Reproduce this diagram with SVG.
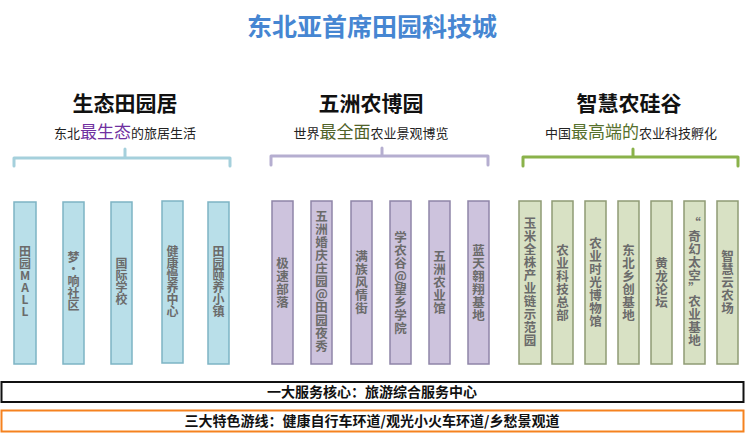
<svg xmlns="http://www.w3.org/2000/svg" width="750" height="444" viewBox="0 0 750 444">
<style>
.title{font-family:"Noto Sans CJK SC","Liberation Sans",sans-serif;font-weight:700;font-size:25px;fill:#4686d2;text-anchor:middle}
.head{font-family:"Noto Sans CJK SC","Liberation Sans",sans-serif;font-weight:700;font-size:21px;fill:#111;text-anchor:middle}
.sub{font-family:"Noto Sans CJK SC","Liberation Sans",sans-serif;font-size:13px;fill:#222;text-anchor:middle}
.big{font-size:17px}
.vt{font-family:"Noto Sans CJK SC","Liberation Sans",sans-serif;font-weight:700;font-size:12.5px;fill:#6b6b6b;text-anchor:middle}
.vt1{font-size:12px}
.b1{fill:#b9dfe9;stroke:#7db4c4;stroke-width:1.5}
.b2{fill:#cdc3dd;stroke:#8f85a8;stroke-width:1.5}
.b3{fill:#d8e1c4;stroke:#8f9b74;stroke-width:1.5}
.br{fill:none;stroke-width:3;stroke-linecap:round;stroke-linejoin:round}
.bar{font-family:"Noto Sans CJK SC","Liberation Sans",sans-serif;font-weight:700;font-size:14px;fill:#111;text-anchor:middle}
</style>
<text class="title" x="372" y="36">东北亚首席田园科技城</text>

<g id="g1-head">
<text class="head" x="125" y="111">生态田园居</text>
<text class="sub" x="125" y="138">东北<tspan class="big" fill="#7030a0">最生态</tspan>的旅居生活</text>
</g>
<g id="g2-head">
<text class="head" x="371" y="111">五洲农博园</text>
<text class="sub" x="371" y="138">世界<tspan class="big" fill="#4f6228">最全面</tspan>农业景观博览</text>
</g>
<g id="g3-head">
<text class="head" x="629" y="111">智慧农硅谷</text>
<text class="sub" x="631" y="138">中国<tspan class="big" fill="#55702c">最高端的</tspan>农业科技孵化</text>
</g>

<g id="connectors">
<path class="br" stroke="#a5d0dc" d="M14,166 V158 H230 V166 M125,149 V158"/>
<path class="br" stroke="#b5aed0" d="M271,165 V156 H488 V165 M382,148 V156"/>
<path class="br" stroke="#8ab24a" d="M523,166 V157 H738 V166 M633,149 V157"/>
</g>

<g id="n-tianyuan-mall">
<rect class="b1" x="14" y="202" width="22" height="162"/>
<text class="vt vt1"><tspan x="25" y="256">田</tspan><tspan x="25" dy="12">园</tspan><tspan x="25" dy="12">M</tspan><tspan x="25" dy="12">A</tspan><tspan x="25" dy="12">L</tspan><tspan x="25" dy="12">L</tspan></text>
</g>
<g id="n-mengxiang">
<rect class="b1" x="63" y="202" width="21" height="162"/>
<text class="vt vt1"><tspan x="73.5" y="262">梦</tspan><tspan x="73.5" dy="12">•</tspan><tspan x="73.5" dy="12">响</tspan><tspan x="73.5" dy="12">社</tspan><tspan x="73.5" dy="12">区</tspan></text>
</g>
<g id="n-guoji">
<rect class="b1" x="111" y="202" width="21" height="162"/>
<text class="vt vt1"><tspan x="121.5" y="268">国</tspan><tspan x="121.5" dy="12">际</tspan><tspan x="121.5" dy="12">学</tspan><tspan x="121.5" dy="12">校</tspan></text>
</g>
<g id="n-jiankang">
<rect class="b1" x="162" y="201" width="21" height="162"/>
<text class="vt vt1"><tspan x="172.5" y="256">健</tspan><tspan x="172.5" dy="12">康</tspan><tspan x="172.5" dy="12">慢</tspan><tspan x="172.5" dy="12">养</tspan><tspan x="172.5" dy="12">中</tspan><tspan x="172.5" dy="12">心</tspan></text>
</g>
<g id="n-yiyang">
<rect class="b1" x="208" y="202" width="21" height="162"/>
<text class="vt vt1"><tspan x="218.5" y="256">田</tspan><tspan x="218.5" dy="12">园</tspan><tspan x="218.5" dy="12">颐</tspan><tspan x="218.5" dy="12">养</tspan><tspan x="218.5" dy="12">小</tspan><tspan x="218.5" dy="12">镇</tspan></text>
</g>

<g id="n-jisu">
<rect class="b2" x="272" y="201" width="21" height="163"/>
<text class="vt"><tspan x="282.5" y="267.5">极</tspan><tspan x="282.5" dy="13">速</tspan><tspan x="282.5" dy="13">部</tspan><tspan x="282.5" dy="13">落</tspan></text>
</g>
<g id="n-hunqing">
<rect class="b2" x="311" y="201" width="21" height="163"/>
<text class="vt"><tspan x="321.5" y="221">五</tspan><tspan x="321.5" dy="13">洲</tspan><tspan x="321.5" dy="13">婚</tspan><tspan x="321.5" dy="13">庆</tspan><tspan x="321.5" dy="13">庄</tspan><tspan x="321.5" dy="13">园</tspan><tspan x="321.5" dy="13">@</tspan><tspan x="321.5" dy="13">田</tspan><tspan x="321.5" dy="13">园</tspan><tspan x="321.5" dy="13">夜</tspan><tspan x="321.5" dy="13">秀</tspan></text>
</g>
<g id="n-manzu">
<rect class="b2" x="351" y="201" width="21" height="163"/>
<text class="vt"><tspan x="361.5" y="261">满</tspan><tspan x="361.5" dy="13">族</tspan><tspan x="361.5" dy="13">风</tspan><tspan x="361.5" dy="13">情</tspan><tspan x="361.5" dy="13">街</tspan></text>
</g>
<g id="n-xuenonggu">
<rect class="b2" x="390" y="201" width="21" height="163"/>
<text class="vt"><tspan x="400.5" y="241.5">学</tspan><tspan x="400.5" dy="13">农</tspan><tspan x="400.5" dy="13">谷</tspan><tspan x="400.5" dy="13">@</tspan><tspan x="400.5" dy="13">望</tspan><tspan x="400.5" dy="13">乡</tspan><tspan x="400.5" dy="13">学</tspan><tspan x="400.5" dy="13">院</tspan></text>
</g>
<g id="n-nongyeguan">
<rect class="b2" x="429" y="201" width="21" height="163"/>
<text class="vt"><tspan x="439.5" y="261">五</tspan><tspan x="439.5" dy="13">洲</tspan><tspan x="439.5" dy="13">农</tspan><tspan x="439.5" dy="13">业</tspan><tspan x="439.5" dy="13">馆</tspan></text>
</g>
<g id="n-lantian">
<rect class="b2" x="468" y="201" width="21" height="163"/>
<text class="vt"><tspan x="478.5" y="254.5">蓝</tspan><tspan x="478.5" dy="13">天</tspan><tspan x="478.5" dy="13">翱</tspan><tspan x="478.5" dy="13">翔</tspan><tspan x="478.5" dy="13">基</tspan><tspan x="478.5" dy="13">地</tspan></text>
</g>

<g id="n-yumi">
<rect class="b3" x="519" y="201" width="22" height="163"/>
<text class="vt"><tspan x="530" y="228">玉</tspan><tspan x="530" dy="13">米</tspan><tspan x="530" dy="13">全</tspan><tspan x="530" dy="13">株</tspan><tspan x="530" dy="13">产</tspan><tspan x="530" dy="13">业</tspan><tspan x="530" dy="13">链</tspan><tspan x="530" dy="13">示</tspan><tspan x="530" dy="13">范</tspan><tspan x="530" dy="13">园</tspan></text>
</g>
<g id="n-keji">
<rect class="b3" x="552" y="201" width="21" height="163"/>
<text class="vt"><tspan x="562.5" y="254.5">农</tspan><tspan x="562.5" dy="13">业</tspan><tspan x="562.5" dy="13">科</tspan><tspan x="562.5" dy="13">技</tspan><tspan x="562.5" dy="13">总</tspan><tspan x="562.5" dy="13">部</tspan></text>
</g>
<g id="n-shiguang">
<rect class="b3" x="585" y="201" width="21" height="163"/>
<text class="vt"><tspan x="595.5" y="248">农</tspan><tspan x="595.5" dy="13">业</tspan><tspan x="595.5" dy="13">时</tspan><tspan x="595.5" dy="13">光</tspan><tspan x="595.5" dy="13">博</tspan><tspan x="595.5" dy="13">物</tspan><tspan x="595.5" dy="13">馆</tspan></text>
</g>
<g id="n-xiangchuang">
<rect class="b3" x="618" y="201" width="21" height="163"/>
<text class="vt"><tspan x="628.5" y="254.5">东</tspan><tspan x="628.5" dy="13">北</tspan><tspan x="628.5" dy="13">乡</tspan><tspan x="628.5" dy="13">创</tspan><tspan x="628.5" dy="13">基</tspan><tspan x="628.5" dy="13">地</tspan></text>
</g>
<g id="n-huanglong">
<rect class="b3" x="651" y="201" width="21" height="163"/>
<text class="vt"><tspan x="661.5" y="267.5">黄</tspan><tspan x="661.5" dy="13">龙</tspan><tspan x="661.5" dy="13">论</tspan><tspan x="661.5" dy="13">坛</tspan></text>
</g>
<g id="n-qihuan">
<rect class="b3" x="684" y="201" width="21" height="163"/>
<text class="vt"><tspan x="694.5" y="228">“</tspan><tspan x="694.5" dy="13">奇</tspan><tspan x="694.5" dy="13">幻</tspan><tspan x="694.5" dy="13">太</tspan><tspan x="694.5" dy="13">空</tspan><tspan x="694.5" dy="13">”</tspan><tspan x="694.5" dy="13">农</tspan><tspan x="694.5" dy="13">业</tspan><tspan x="694.5" dy="13">基</tspan><tspan x="694.5" dy="13">地</tspan></text>
</g>
<g id="n-zhihuiyun">
<rect class="b3" x="717" y="201" width="21" height="163"/>
<text class="vt"><tspan x="727.5" y="261">智</tspan><tspan x="727.5" dy="13">慧</tspan><tspan x="727.5" dy="13">云</tspan><tspan x="727.5" dy="13">农</tspan><tspan x="727.5" dy="13">场</tspan></text>
</g>

<g id="n-service-core">
<rect x="1.5" y="382" width="742" height="20" fill="#fff" stroke="#111" stroke-width="2"/>
<text class="bar" x="372" y="397">一大服务核心：旅游综合服务中心</text>
</g>
<g id="n-tour-lines">
<rect x="1.5" y="410.5" width="742" height="21" fill="#fff" stroke="#f5821f" stroke-width="2"/>
<text class="bar" x="372" y="426">三大特色游线：健康自行车环道/观光小火车环道/乡愁景观道</text>
</g>
</svg>
